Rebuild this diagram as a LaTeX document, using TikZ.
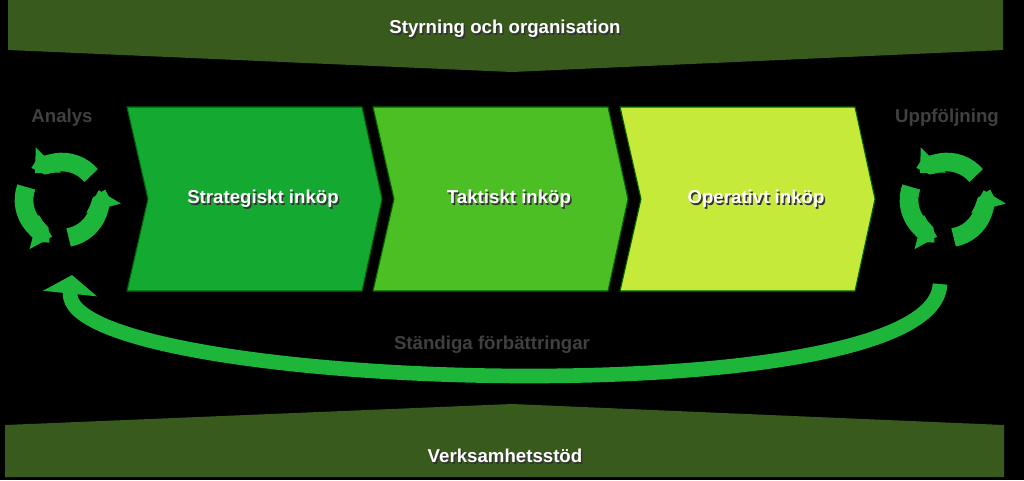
\documentclass[tikz,border=0pt]{standalone}
\usepackage{fontspec}
\setmainfont{Liberation Sans}
\usetikzlibrary{arrows.meta,positioning}
\definecolor{band}{HTML}{385A1C}
\definecolor{stepA}{HTML}{14AA32}
\definecolor{stepB}{HTML}{4CBF24}
\definecolor{stepC}{HTML}{C5EA3A}
\definecolor{loopgreen}{HTML}{1DB53A}
\definecolor{greytext}{HTML}{404040}

\begin{document}
\begin{tikzpicture}[x=0.75pt, y=-0.75pt]
    \tikzset{
        chevron/.style  =   { draw=black!60!green
                            , line width=0.8pt
        }
        , lbl/.style    =   { font=\bfseries\fontsize{14}{16}\selectfont
                            , text=white
        }
        , shadow/.style =   { font=\bfseries\fontsize{14}{16}\selectfont
                            , text=black!80
        }
        , grey/.style   =   { font=\bfseries\fontsize{14}{16}\selectfont
                            , text=greytext
        }
        , ring/.style   =   { loopgreen
                            , line width=14pt
                            , -{Triangle[width=26pt,length=14pt]}
        }
    }
    \fill[black] (0,0) rectangle (1024,480);

    % bands
    \fill[band] (8,0) -- (1003,0) -- (1003,50) -- (512,72) -- (8,50) -- cycle;
    \fill[band] (5,425) -- (512,404) -- (1004,425) -- (1004,477) -- (5,477) -- cycle;

    % chevrons
    \filldraw[chevron, fill=stepA] (127,107) -- (362,107) -- (382,199) -- (362,291) -- (127,291) -- (148,199) -- cycle;
    \filldraw[chevron, fill=stepB] (373,107) -- (608,107) -- (628,199) -- (608,291) -- (373,291) -- (394,199) -- cycle;
    \filldraw[chevron, fill=stepC] (620,107) -- (855,107) -- (875,199) -- (855,291) -- (620,291) -- (641,199) -- cycle;

    % labels
    \foreach \n/\x/\y/\t in {top/505/29/Styrning och organisation, s/263/199/Strategiskt inköp, t/509/199/Taktiskt inköp, o/756/199/Operativt inköp, b/505/456/Verksamhetsstöd}{
        \node[shadow] at (\x+1.5,\y+1.5) {\t};
        \node[lbl] (\n) at (\x,\y) {\t};
    }
    \node[grey] (analys) at (62,118) {Analys};
    \node[grey] (uppf) at (947,118) {Uppföljning};

    % recycle loops
    \foreach \c/\cx in {l/62, r/947}{
        \coordinate (\c) at (\cx,200);
        \foreach \a in {80,200,320}{
            \draw[ring] ([shift={(\a:38)}]\c) arc[start angle=\a, end angle=\a-95, radius=38];
        }
    }

    % improvement arrow
    \coordinate (fstart) at (940,284);
    \coordinate (fend) at (72,275);
    \draw[loopgreen, line width=11pt, -{Triangle[width=40pt,length=14pt]}]
        (fstart) .. controls (935,420) and (60,390) .. (fend);
    \node[grey] (impr) at (492,345) {Ständiga förbättringar};
\end{tikzpicture}
\end{document}
